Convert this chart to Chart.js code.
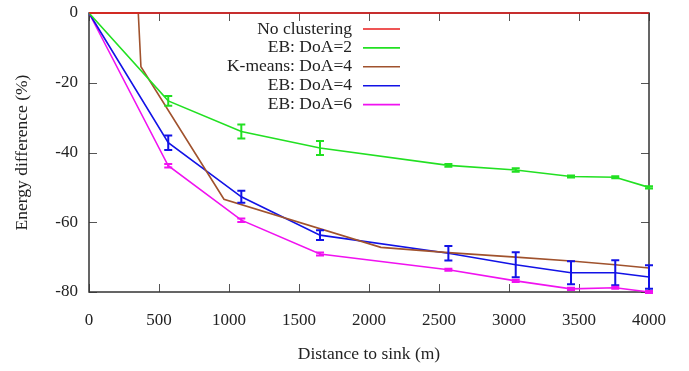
<!DOCTYPE html>
<html>
<head>
<meta charset="utf-8">
<script src="https://cdn.jsdelivr.net/npm/chart.js@4"></script>
<style>
  body { margin: 0; background: #fff; }
  #wrap { width: 689px; height: 371px; }
</style>
</head>
<body>
<div id="wrap"><canvas id="energyChart" width="689" height="371"></canvas></div>
<script>
// distances (m) where the EB runs were measured
const distances = [0, 566, 1088, 1650, 2567, 3048, 3443, 3759, 4000];
const noClustering = [0, 0, 0, 0, 0, 0, 0, 0, 0];
const eb2 = [0, -25.2, -34.0, -38.7, -43.7, -45.0, -46.9, -47.1, -50.0];
const eb2Err = [0, 1.4, 2.0, 2.0, 0.4, 0.5, 0.3, 0.3, 0.3];
const eb4 = [0, -37.2, -52.7, -63.7, -68.9, -72.2, -74.5, -74.5, -75.7];
const eb4Err = [0, 2.1, 1.7, 1.4, 2.1, 3.6, 3.3, 3.6, 3.4];
const eb6 = [0, -43.8, -59.4, -69.1, -73.6, -76.8, -79.1, -78.8, -80.0];
const eb6Err = [0, 0.5, 0.5, 0.4, 0.3, 0.3, 0.3, 0.3, 0.3];
// k-means has its own break points
const kmDistances = [0, 352, 371, 964, 2085, 2567, 3048, 3443, 3759, 4000];
const km4 = [0, 0, -15.4, -53.4, -67.2, -68.7, -70.0, -71.1, -72.2, -73.1];

const xTicks = [0, 500, 1000, 1500, 2000, 2500, 3000, 3500, 4000];
const yTicks = [-80, -60, -40, -20, 0];

const serif = 'Liberation Serif';

function pts(xs, ys) {
  return xs.map((x, i) => ({ x: x, y: ys[i] }));
}

function series(label, xs, ys, color, errs) {
  return {
    label: label,
    data: pts(xs, ys),
    borderColor: color,
    backgroundColor: color,
    borderWidth: 1.6,
    pointRadius: 0,
    tension: 0,
    clip: 3,
    errors: errs
  };
}

// box around the plot with gnuplot-style inward ticks
const frame = {
  id: 'frame',
  beforeDatasetsDraw(chart) {
    const { ctx, chartArea: a, scales: { x, y } } = chart;
    ctx.save();
    ctx.strokeStyle = '#555';
    ctx.lineWidth = 1;
    ctx.beginPath();
    xTicks.forEach(v => {
      const px = Math.round(x.getPixelForValue(v)) + 0.5;
      ctx.moveTo(px, a.bottom); ctx.lineTo(px, a.bottom - 8);
      ctx.moveTo(px, a.top); ctx.lineTo(px, a.top + 8);
    });
    yTicks.forEach(v => {
      const py = Math.round(y.getPixelForValue(v)) + 0.5;
      ctx.moveTo(a.left, py); ctx.lineTo(a.left + 8, py);
      ctx.moveTo(a.right, py); ctx.lineTo(a.right - 8, py);
    });
    ctx.stroke();
    ctx.strokeStyle = '#333';
    ctx.lineWidth = 1.5;
    ctx.strokeRect(a.left, a.top, a.right - a.left, a.bottom - a.top);
    ctx.restore();
  }
};

const errorBars = {
  id: 'errorBars',
  afterDatasetsDraw(chart) {
    const { ctx, scales: { x, y } } = chart;
    ctx.save();
    chart.data.datasets.forEach(ds => {
      if (!ds.errors) return;
      ctx.strokeStyle = ds.borderColor;
      ctx.lineWidth = 2;
      ds.data.forEach((p, i) => {
        const e = ds.errors[i];
        if (!e) return;
        const px = x.getPixelForValue(p.x);
        const top = y.getPixelForValue(p.y + e);
        const bot = y.getPixelForValue(p.y - e);
        ctx.beginPath();
        ctx.moveTo(px, top); ctx.lineTo(px, bot);
        ctx.moveTo(px - 4, top); ctx.lineTo(px + 4, top);
        ctx.moveTo(px - 4, bot); ctx.lineTo(px + 4, bot);
        ctx.stroke();
      });
    });
    ctx.restore();
  }
};

// legend: right aligned text with line sample on the right
const keyBox = {
  id: 'keyBox',
  afterDraw(chart) {
    const ctx = chart.ctx;
    ctx.save();
    ctx.font = '17.5px "' + serif + '"';
    ctx.textAlign = 'right';
    ctx.textBaseline = 'middle';
    chart.data.datasets.forEach((ds, i) => {
      const yy = 29 + i * 18.9;
      ctx.fillStyle = '#222';
      ctx.fillText(ds.label, 352, yy);
      ctx.strokeStyle = ds.borderColor;
      ctx.lineWidth = 1.6;
      ctx.beginPath();
      ctx.moveTo(363, yy); ctx.lineTo(400, yy);
      ctx.stroke();
    });
    ctx.restore();
  }
};

new Chart(document.getElementById('energyChart'), {
  type: 'line',
  data: {
    datasets: [
      series('No clustering', distances, noClustering, '#e81c1c'),
      series('EB: DoA=2', distances, eb2, '#22e022', eb2Err),
      series('K-means: DoA=4', kmDistances, km4, '#a0522d'),
      series('EB: DoA=4', distances, eb4, '#1212e6', eb4Err),
      series('EB: DoA=6', distances, eb6, '#f012f0', eb6Err)
    ]
  },
  options: {
    responsive: false,
    animation: false,
    layout: { padding: { top: 13, right: 40, left: 0, bottom: 0 }, autoPadding: false },
    plugins: { legend: { display: false }, tooltip: { enabled: false } },
    scales: {
      x: {
        type: 'linear',
        min: 0, max: 4000,
        grid: { display: false, drawTicks: false },
        border: { display: false },
        afterBuildTicks: s => { s.ticks = xTicks.map(v => ({ value: v })); },
        afterFit: s => { s.height = 79; s.paddingLeft = 0; s.paddingRight = 0; },
        ticks: { padding: 18, color: '#222', font: { family: serif, size: 17 }, maxRotation: 0, callback: v => String(v) },
        title: { display: true, text: 'Distance to sink (m)', color: '#222', font: { family: serif, size: 17.5 }, padding: { top: 0, bottom: 6 } }
      },
      y: {
        min: -80, max: 0,
        grid: { display: false, drawTicks: false },
        border: { display: false },
        afterBuildTicks: s => { s.ticks = yTicks.map(v => ({ value: v })); },
        afterFit: s => { s.width = 89; s.paddingTop = 0; s.paddingBottom = 0; },
        ticks: { padding: 11, color: '#222', font: { family: serif, size: 17 }, callback: v => String(v) },
        title: { display: true, text: 'Energy difference (%)', color: '#222', font: { family: serif, size: 17.5 }, padding: { top: 12, bottom: 0 } }
      }
    }
  },
  plugins: [frame, errorBars, keyBox]
});
</script>
</body>
</html>
